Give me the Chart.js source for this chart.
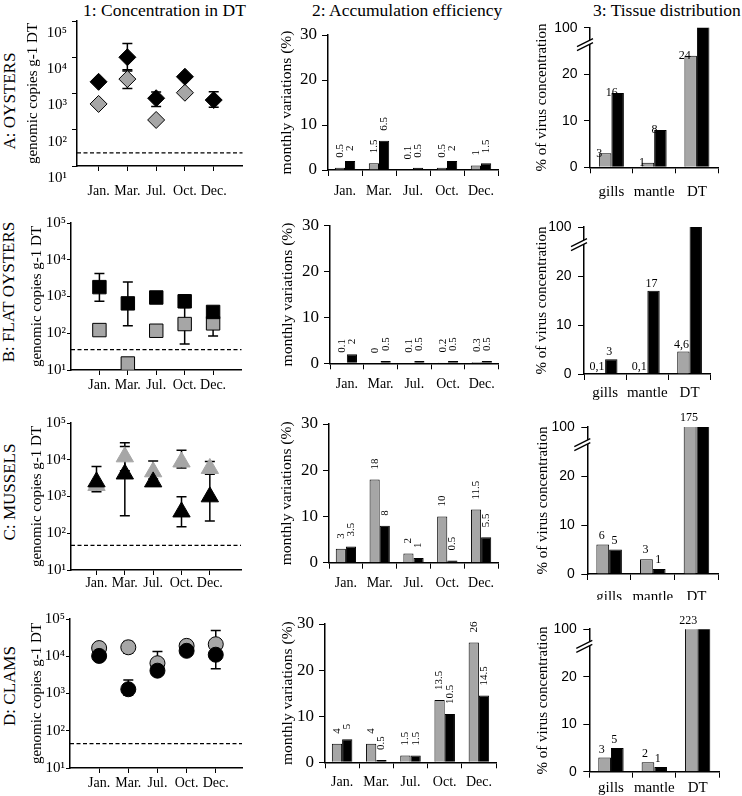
<!DOCTYPE html>
<html>
<head>
  <meta charset="UTF-8" />
  <title>Concentration, accumulation efficiency and tissue distribution</title>
  <script src="https://cdn.jsdelivr.net/npm/chart.js"></script>
  <style>
    body {
      margin: 0;
      background: #fff;
      color: #000;
      font-family: 'Liberation Serif', 'Times New Roman', serif;
    }

    #page {
      position: relative;
      width: 742px;
      height: 796px;
      overflow: hidden;
    }

    #page canvas {
      position: absolute;
    }

    .title {
      position: absolute;
      top: 0;
      height: 20px;
      line-height: 20px;
      font-size: 17.5px;
      white-space: nowrap;
    }

    .row {
      position: absolute;
      font-size: 17px;
      white-space: nowrap;
      transform: translate(-50%, -50%) rotate(-90deg);
    }
  </style>
</head>
<body>
<div id="page">
  <div class="title" style="left: 83px;">1: Concentration in DT</div>
  <div class="title" style="left: 312px;">2: Accumulation efficiency</div>
  <div class="title" style="left: 593px;">3: Tissue distribution</div>
  <div class="row" style="left: 10px; top: 101px;">A: OYSTERS</div>
  <div class="row" style="left: 9px; top: 292px;">B: FLAT OYSTERS</div>
  <div class="row" style="left: 10px; top: 492px;">C: MUSSELS</div>
  <div class="row" style="left: 10px; top: 686px;">D: CLAMS</div>
</div>

<script>
  // axis categories and tick labels
  const months = ['Jan.', 'Mar.', 'Jul.', 'Oct.', 'Dec.'];
  const monthPos = [1, 2, 3, 4, 5];
  const tissues = ['gills', 'mantle', 'DT'];
  const concTicks = [10, 100, 1000, 10000, 100000];
  const concTickText = ['10¹', '10²', '10³', '10⁴', '10⁵'];
  const effTicks = [0, 10, 20, 30];
  const tisTicks = [0, 10, 20, 30];           // broken axis: top tick stands for 100
  const tisTickText = ['0', '10', '20', '100'];

  // 1: concentration in DT (genomic copies g-1 DT)
  const oystersBlack = [2100, 10000, 740, 2900, 660];
  const oystersGrey = [515, 2500, 186, 1050, null];
  const oystersBlackErr = [null, [4200, 24000], [440, 1100], null, [415, 1110]];
  const oystersGreyErr = [null, [1370, 4500], null, null, null];
  const oystersLimit = 23;

  const flatBlack = [1800, 650, 940, 740, 380];
  const flatGrey = [122, 15, 117, 178, 186];
  const flatBlackErr = [[740, 4200], [160, 2500], null, [500, 1100], null];
  const flatGreyErr = [null, null, null, [51, 600], [84, 300]];
  const flatLimit = 36;

  const musselsBlack = [2500, 4100, 2500, 380, 980];
  const musselsGrey = [2000, 12000, 4700, 8700, 5800];
  const musselsBlackErr = [[1350, 6600], [300, 23000], null, [150, 980], [215, 5000]];
  const musselsGreyErr = [null, [5000, 29000], [3000, 9300], [6000, 18000], [4000, 9000]];
  const musselsLimit = 47;

  const clamsBlack = [10200, 1300, 4100, 14000, 11000];
  const clamsGrey = [16600, 17400, 6500, 19000, 21000];
  const clamsBlackErr = [null, [900, 2300], null, null, [4600, 25000]];
  const clamsGreyErr = [[12000, 22000], [12000, 25000], [4000, 13500], null, [10000, 49000]];
  const clamsLimit = 45;

  // 2: accumulation efficiency, monthly variations (%)
  const oystersEffGrey = [0.5, 1.5, 0.1, 0.5, 1];
  const oystersEffBlack = [2, 6.5, 0.5, 2, 1.5];
  const flatEffGrey = [0.1, 0, 0.1, 0.2, 0.3];
  const flatEffBlack = [2, 0.5, 0.5, 0.5, 0.5];
  const musselsEffGrey = [3, 18, 2, 10, 11.5];
  const musselsEffBlack = [3.5, 8, 1, 0.5, 5.5];
  const clamsEffGrey = [4, 4, 1.5, 13.5, 26];
  const clamsEffBlack = [5, 0.5, 1.5, 10.5, 14.5];

  // 3: tissue distribution, % of virus concentration
  const oystersTisGrey = [3, 1, 24];
  const oystersTisBlack = [16, 8, 100];
  const oystersTisGreyText = ['3', '1', '24'];
  const oystersTisBlackText = ['16', '8', ''];
  const flatTisGrey = [0.1, 0.1, 4.6];
  const flatTisBlack = [3, 17, 100];
  const flatTisGreyText = ['0,1', '0,1', '4,6'];
  const flatTisBlackText = ['3', '17', ''];
  const musselsTisGrey = [6, 3, 175];
  const musselsTisBlack = [5, 1, 100];
  const musselsTisGreyText = ['6', '3', '175'];
  const musselsTisBlackText = ['5', '1', ''];
  const clamsTisGrey = [3, 2, 223];
  const clamsTisBlack = [5, 1, 100];
  const clamsTisGreyText = ['3', '2', '223'];
  const clamsTisBlackText = ['5', '1', ''];

  const SERIF = "'Liberation Serif', 'Times New Roman', serif";
  const SANS = "'Liberation Sans', Arial, sans-serif";
  Chart.defaults.font.family = SERIF;
  Chart.defaults.color = '#000';

  const GREY = '#a6a6a6';
  const rowTop = [0, 200, 400, 600];
  const rowBottom = [200, 400, 600, 796];

  const errorBars = {
    id: 'errorBars',
    beforeDatasetsDraw(chart) {
      const ctx = chart.ctx;
      const xs = chart.scales.x;
      const ys = chart.scales.y;
      ctx.save();
      ctx.strokeStyle = '#000';
      ctx.lineWidth = 1.5;
      chart.data.datasets.forEach(ds => {
        (ds.errors || []).forEach((e, i) => {
          if (!e) return;
          const x = xs.getPixelForValue(monthPos[i]);
          const y1 = ys.getPixelForValue(e[0]);
          const y2 = ys.getPixelForValue(e[1]);
          ctx.beginPath();
          ctx.moveTo(x, y1);
          ctx.lineTo(x, y2);
          ctx.moveTo(x - 5, y1);
          ctx.lineTo(x + 5, y1);
          ctx.moveTo(x - 5, y2);
          ctx.lineTo(x + 5, y2);
          ctx.stroke();
        });
      });
      ctx.restore();
    }
  };

  const limitLine = {
    id: 'limitLine',
    beforeDatasetsDraw(chart, args, opts) {
      const ctx = chart.ctx;
      const area = chart.chartArea;
      const y = chart.scales.y.getPixelForValue(opts.value);
      ctx.save();
      ctx.strokeStyle = '#000';
      ctx.lineWidth = 1.3;
      ctx.setLineDash([4, 2.5]);
      ctx.beginPath();
      ctx.moveTo(area.left, y);
      ctx.lineTo(area.right, y);
      ctx.stroke();
      ctx.restore();
    }
  };

  // value labels above bars; text style is kept here, not in the plugin options
  const barTextStyle = {};
  const barText = {
    id: 'barText',
    afterDatasetsDraw(chart) {
      const ctx = chart.ctx;
      const top = chart.chartArea.top;
      const st = barTextStyle[chart.canvas.id];
      chart.data.datasets.forEach((ds, i) => {
        if (!ds.valueText) return;
        chart.getDatasetMeta(i).data.forEach((bar, j) => {
          const text = ds.valueText[j];
          if (!text) return;
          const y = Math.max(bar.y, top);
          ctx.save();
          ctx.fillStyle = '#000';
          ctx.font = st.font;
          ctx.textBaseline = 'middle';
          if (st.vertical) {
            ctx.translate(bar.x, y - st.gap);
            ctx.rotate(-Math.PI / 2);
            ctx.textAlign = 'left';
            ctx.fillText(text, 0, 0);
          } else {
            ctx.textAlign = 'center';
            ctx.fillText(text, bar.x + st.dx, y + st.dy);
          }
          ctx.restore();
        });
      });
    }
  };

  const axisBreak = {
    id: 'axisBreak',
    afterDraw(chart) {
      const ctx = chart.ctx;
      const x = chart.chartArea.left;
      const y = chart.scales.y.getPixelForValue(26.8);
      ctx.save();
      ctx.fillStyle = '#fff';
      ctx.beginPath();
      ctx.moveTo(x - 13, y + 4);
      ctx.lineTo(x + 3, y - 4);
      ctx.lineTo(x + 3, y);
      ctx.lineTo(x - 13, y + 8);
      ctx.closePath();
      ctx.fill();
      ctx.strokeStyle = '#000';
      ctx.lineWidth = 1.3;
      ctx.beginPath();
      ctx.moveTo(x - 13, y + 4);
      ctx.lineTo(x + 3, y - 4);
      ctx.moveTo(x - 13, y + 8);
      ctx.lineTo(x + 3, y);
      ctx.stroke();
      ctx.restore();
    }
  };

  let canvasCount = 0;
  function makeCanvas(x, y, w, h) {
    const c = document.createElement('canvas');
    c.id = 'panel' + (canvasCount++);
    c.width = w;
    c.height = h;
    c.style.left = x + 'px';
    c.style.top = y + 'px';
    document.getElementById('page').appendChild(c);
    return c;
  }

  function axisStyle(tickLength) {
    return {
      grid: { drawOnChartArea: false, color: '#000', tickLength: tickLength },
      border: { color: '#000', width: 1.5 }
    };
  }

  function concPanel(row, g, black, grey, blackErr, greyErr, limit, marker, radius, greyBorder) {
    const top = rowTop[row];
    const h = rowBottom[row] - top;
    const w = 252;
    new Chart(makeCanvas(0, top, w, h), {
      type: 'scatter',
      data: {
        datasets: [
          {
            data: monthPos.map((m, i) => ({ x: m, y: black[i] })),
            errors: blackErr,
            pointStyle: marker,
            pointRadius: radius,
            backgroundColor: '#000',
            borderColor: '#000',
            borderWidth: 1
          },
          {
            data: monthPos.map((m, i) => ({ x: m, y: grey[i] })),
            errors: greyErr,
            pointStyle: marker,
            pointRadius: radius,
            backgroundColor: GREY,
            borderColor: greyBorder,
            borderWidth: 1
          }
        ]
      },
      options: {
        responsive: false,
        animation: false,
        layout: { padding: { left: 0, top: g.t - top, right: w - g.r, bottom: 0 } },
        plugins: { legend: { display: false }, tooltip: { enabled: false }, limitLine: { value: limit } },
        scales: {
          x: Object.assign(axisStyle(5), {
            type: 'linear',
            min: g.xMin,
            max: g.xMax,
            afterBuildTicks: s => { s.ticks = monthPos.map(v => ({ value: v })); },
            afterFit: s => { s.height = top + h - g.b; },
            ticks: { callback: (v, i) => months[i], padding: g.tickPad, autoSkip: false, maxRotation: 0, font: { family: SERIF, size: 14 } }
          }),
          y: Object.assign(axisStyle(g.yTick), {
            type: 'logarithmic',
            min: 10,
            max: 100000,
            afterBuildTicks: s => { s.ticks = concTicks.map(v => ({ value: v })); },
            afterFit: s => { s.width = g.l; },
            ticks: { callback: (v, i) => concTickText[i], padding: g.yPad, labelOffset: g.labelShift, autoSkip: false, font: { family: SERIF, size: 15 } },
            title: { display: true, text: 'genomic copies g-1 DT', font: { family: SERIF, size: 15 }, padding: { top: g.titleX - 9, bottom: 0 } }
          })
        }
      },
      plugins: [errorBars, limitLine]
    });
  }

  function effPanel(row, g, grey, black) {
    const top = rowTop[row];
    const h = rowBottom[row] - top;
    const x0 = 252;
    const w = 250;
    const bar = { barPercentage: 1, categoryPercentage: 0.6, borderColor: '#000', borderWidth: 1 };
    const canvas = makeCanvas(x0, top, w, h);
    barTextStyle[canvas.id] = { vertical: true, gap: 10, font: '11px ' + SERIF };
    new Chart(canvas, {
      type: 'bar',
      data: {
        labels: months,
        datasets: [
          Object.assign({ data: grey, backgroundColor: GREY, valueText: grey.map(String) }, bar),
          Object.assign({ data: black, backgroundColor: '#000', valueText: black.map(String) }, bar)
        ]
      },
      options: {
        responsive: false,
        animation: false,
        layout: { padding: { left: 0, top: g.t - top, right: x0 + w - g.r, bottom: 0 } },
        plugins: { legend: { display: false }, tooltip: { enabled: false } },
        scales: {
          x: Object.assign(axisStyle(6), {
            afterFit: s => { s.height = top + h - g.b; },
            ticks: { padding: g.tickPad, maxRotation: 0, autoSkip: false, font: { family: SERIF, size: 14 } }
          }),
          y: Object.assign(axisStyle(6), {
            min: 0,
            max: 30,
            afterBuildTicks: s => { s.ticks = effTicks.map(v => ({ value: v })); },
            afterFit: s => { s.width = g.l - x0; },
            ticks: { padding: 5, font: { family: SERIF, size: 17 } },
            title: { display: true, text: 'monthly variations (%)', font: { family: SERIF, size: 15.5 }, padding: { top: g.titleX - x0 - 9.3, bottom: 0 } }
          })
        }
      },
      plugins: [barText]
    });
  }

  function tisPanel(row, g, grey, black, greyText, blackText) {
    const top = rowTop[row];
    const h = rowBottom[row] - top;
    const x0 = 502;
    const w = 240;
    const bar = { barPercentage: 1, categoryPercentage: 0.585, borderColor: '#000', borderWidth: 1 };
    const canvas = makeCanvas(x0, top, w, h);
    barTextStyle[canvas.id] = { vertical: false, dx: g.dx, dy: g.dy, font: '12px ' + SERIF };
    new Chart(canvas, {
      type: 'bar',
      data: {
        labels: tissues,
        datasets: [
          Object.assign({ data: grey, backgroundColor: GREY, valueText: greyText }, bar),
          Object.assign({ data: black, backgroundColor: '#000', valueText: blackText }, bar)
        ]
      },
      options: {
        responsive: false,
        animation: false,
        layout: { padding: { left: 0, top: g.t - top, right: x0 + w - g.r, bottom: 0 } },
        plugins: { legend: { display: false }, tooltip: { enabled: false } },
        scales: {
          x: Object.assign(axisStyle(6), {
            afterFit: s => { s.height = top + h - g.b; },
            ticks: { padding: g.tickPad, maxRotation: 0, autoSkip: false, font: { family: SERIF, size: 15 } }
          }),
          y: Object.assign(axisStyle(6), {
            min: 0,
            max: 30,
            afterBuildTicks: s => { s.ticks = tisTicks.map(v => ({ value: v })); },
            afterFit: s => { s.width = g.l - x0; },
            ticks: { callback: (v, i) => tisTickText[i], padding: 6.5, font: { family: SANS, size: 14 } },
            title: { display: true, text: '% of virus concentration', font: { family: SERIF, size: 15 }, padding: { top: g.titleX - x0 - 9, bottom: 0 } }
          })
        }
      },
      plugins: [barText, axisBreak]
    });
  }

  // column 1
  concPanel(0, { l: 77, t: 21, r: 248, b: 166, xMin: 0.25, xMax: 6.0, titleX: 33.3, tickPad: 11.6, labelShift: 12, yTick: 5, yPad: 5 },
    oystersBlack, oystersGrey, oystersBlackErr, oystersGreyErr, oystersLimit, 'rectRot', 8.5, '#000');
  concPanel(1, { l: 71, t: 223, r: 247, b: 370, xMin: 0, xMax: 6, titleX: 37, tickPad: 1.6, labelShift: 0, yTick: 4, yPad: 1 },
    flatBlack, flatGrey, flatBlackErr, flatGreyErr, flatLimit, 'rect', 9.5, '#000');
  concPanel(2, { l: 71, t: 423, r: 247, b: 570, xMin: 0.1, xMax: 6.1, titleX: 37, tickPad: 0, labelShift: 0, yTick: 4, yPad: 1 },
    musselsBlack, musselsGrey, musselsBlackErr, musselsGreyErr, musselsLimit, 'triangle', 10, GREY);
  concPanel(3, { l: 70, t: 619, r: 242, b: 768, xMin: 0, xMax: 5.9, titleX: 37, tickPad: 2, labelShift: 0, yTick: 4, yPad: 1 },
    clamsBlack, clamsGrey, clamsBlackErr, clamsGreyErr, clamsLimit, 'circle', 7.5, '#000');

  // column 2
  effPanel(0, { l: 328, t: 35, r: 498, b: 170, titleX: 287.3, tickPad: 7 }, oystersEffGrey, oystersEffBlack);
  effPanel(1, { l: 330, t: 225.7, r: 500, b: 363.3, titleX: 288.3, tickPad: 7 }, flatEffGrey, flatEffBlack);
  effPanel(2, { l: 329, t: 424, r: 498, b: 562.7, titleX: 287.3, tickPad: 6 }, musselsEffGrey, musselsEffBlack);
  effPanel(3, { l: 325, t: 624, r: 496, b: 762.3, titleX: 288.3, tickPad: 5.5 }, clamsEffGrey, clamsEffBlack);

  // column 3
  tisPanel(0, { l: 590, t: 27.8, r: 718.3, b: 167.3, titleX: 541.7, tickPad: 9.4, dx: -6, dy: 0 },
    oystersTisGrey, oystersTisBlack, oystersTisGreyText, oystersTisBlackText);
  tisPanel(1, { l: 584, t: 227, r: 710.7, b: 374, titleX: 541.7, tickPad: 4, dx: -2, dy: -7 },
    flatTisGrey, flatTisBlack, flatTisGreyText, flatTisBlackText);
  tisPanel(2, { l: 587.3, t: 427, r: 718.3, b: 574, titleX: 543.3, tickPad: 8, dx: -1, dy: -9 },
    musselsTisGrey, musselsTisBlack, musselsTisGreyText, musselsTisBlackText);
  tisPanel(3, { l: 589.3, t: 629.2, r: 719.3, b: 771.7, titleX: 542.7, tickPad: 1.7, dx: -3, dy: -8 },
    clamsTisGrey, clamsTisBlack, clamsTisGreyText, clamsTisBlackText);
</script>
</body>
</html>
